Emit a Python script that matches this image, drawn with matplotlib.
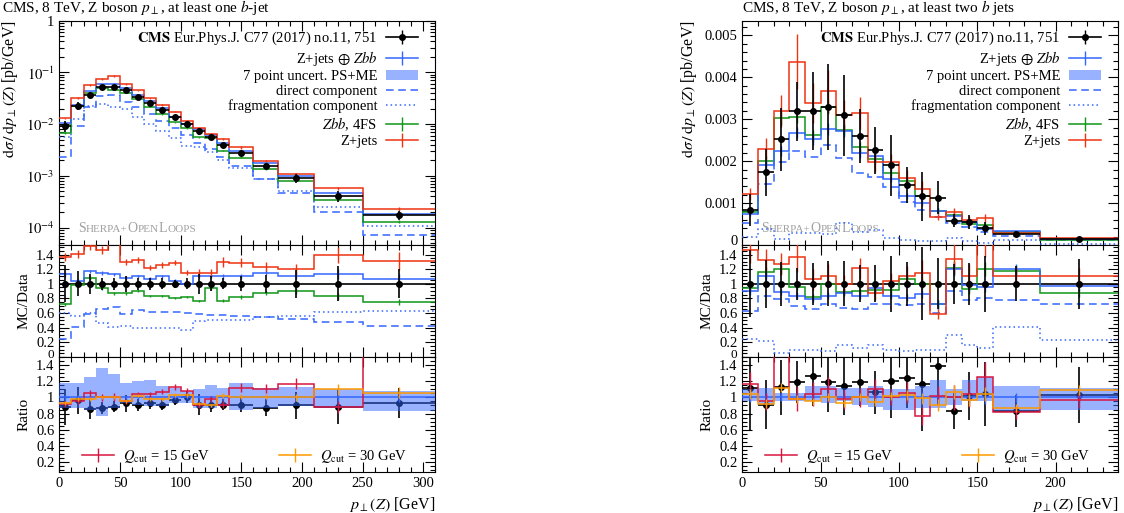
import numpy as np
import matplotlib.pyplot as plt
from matplotlib.ticker import (MultipleLocator, AutoMinorLocator, LogLocator,
                               FuncFormatter, NullFormatter)
from matplotlib.patches import Patch
from matplotlib.lines import Line2D
from matplotlib.legend import Legend
from matplotlib.offsetbox import TextArea, HPacker, AnchoredOffsetbox

plt.rcParams['font.family'] = ['Liberation Serif', 'DejaVu Serif']
plt.rcParams['mathtext.fontset'] = 'stix'
plt.rcParams['font.size'] = 10
plt.rcParams['xtick.labelsize'] = 10.5
plt.rcParams['ytick.labelsize'] = 10.5

RED = '#EE3311'
BLUE = '#3366FF'
GREEN = '#109618'
CRIMSON = '#D8163E'
ORANGE = '#FF9900'
GREY = '#A0A0A0'

#%% at least one b-jet
edges_1b = [0, 10, 20, 30, 40, 50, 60, 70, 80, 90, 100, 110, 120, 130, 140, 160, 180, 210, 250, 310]
data_1b = [0.0094, 0.0226, 0.037, 0.052, 0.053, 0.046, 0.034, 0.026, 0.0187, 0.0135,
           0.0101, 0.0073, 0.0057, 0.0040, 0.00275, 0.00156, 0.00090, 0.00041, 0.000173]
derr_1b = [0.25, 0.17, 0.14, 0.08, 0.08, 0.11, 0.08, 0.085, 0.075, 0.055,
           0.075, 0.14, 0.10, 0.075, 0.10, 0.12, 0.19, 0.24, 0.20]
# MC / Data
red_1b = [1.37, 1.41, 1.52, 1.46, 1.62, 1.30, 1.33, 1.22, 1.26, 1.29,
          1.15, 1.15, 1.15, 1.30, 1.29, 1.23, 1.20, 1.39, 1.31]
blue_1b = [1.13, 1.04, 1.17, 1.15, 1.13, 1.08, 1.10, 1.07, 1.10, 1.04,
           1.00, 1.10, 1.10, 1.10, 1.10, 1.15, 1.11, 1.14, 1.07]
green_1b = [0.72, 0.98, 1.08, 0.94, 0.87, 0.87, 0.90, 0.83, 0.83, 0.81,
            0.82, 0.77, 0.94, 0.77, 0.82, 0.87, 0.90, 0.83, 0.75]
direct_1b = [0.25, 0.41, 0.59, 0.66, 0.68, 0.59, 0.64, 0.61, 0.62, 0.61,
             0.60, 0.59, 0.58, 0.57, 0.56, 0.55, 0.52, 0.48, 0.42]
frag_1b = [0.60, 0.56, 0.60, 0.47, 0.41, 0.42, 0.40, 0.39, 0.39, 0.40,
           0.37, 0.49, 0.50, 0.50, 0.51, 0.55, 0.56, 0.62, 0.63]
# ratio to Z+jets (+) Zbb
band_hi_1b = [1.18, 1.18, 1.25, 1.37, 1.29, 1.18, 1.20, 1.22, 1.14, 1.12,
              1.08, 1.10, 1.15, 1.12, 1.18, 1.12, 1.13, 1.10, 1.08]
band_lo_1b = [0.87, 0.87, 0.85, 0.77, 0.87, 0.93, 0.91, 0.89, 0.89, 0.93,
              0.93, 0.87, 0.87, 0.89, 0.85, 0.87, 0.89, 0.87, 0.83]
q15_1b = [0.92, 0.95, 1.05, 1.00, 1.00, 0.95, 1.04, 1.04, 1.07, 1.13,
          1.08, 0.91, 0.98, 0.91, 1.12, 1.11, 1.17, 0.88, 1.75]
q30_1b = [0.93, 0.98, 0.98, 1.00, 1.00, 0.95, 1.02, 0.98, 0.98, 1.03,
          1.03, 0.92, 0.90, 1.02, 1.01, 1.01, 1.00, 1.10, 1.06]
err_red_1b = [0.04, 0.04, 0.04, 0.04, 0.05, 0.03, 0.03, 0.03, 0.03, 0.03,
              0.03, 0.04, 0.04, 0.05, 0.05, 0.05, 0.06, 0.08, 0.09]
err_mc_1b = [0.03, 0.03, 0.02, 0.02, 0.02, 0.02, 0.02, 0.02, 0.02, 0.02,
             0.02, 0.02, 0.02, 0.03, 0.03, 0.03, 0.04, 0.06, 0.06]

#%% at least two b jets
edges_2b = [0, 10, 20, 30, 40, 50, 60, 70, 80, 90, 100, 110, 120, 130, 140, 150, 160, 190, 240]
data_2b = [0.00083, 0.00173, 0.00252, 0.00319, 0.00319, 0.00330, 0.00309, 0.00260, 0.00226,
           0.00190, 0.00144, 0.00116, 0.00113, 0.00058, 0.00055, 0.00040, 0.00027, 0.00015]
derr_2b = [0.46, 0.33, 0.30, 0.22, 0.29, 0.31, 0.31, 0.25, 0.25,
           0.38, 0.30, 0.50, 0.35, 0.27, 0.29, 0.38, 0.24, 0.34]
red_2b = [1.46, 1.33, 1.27, 1.37, 1.06, 1.11, 1.00, 1.21, 0.88,
          1.04, 1.11, 1.15, 0.59, 1.34, 1.10, 1.60, 1.10, 1.10]
blue_2b = [0.90, 1.10, 0.89, 0.84, 0.79, 0.84, 0.88, 0.84, 0.94,
           0.83, 0.81, 0.86, 0.72, 1.20, 0.98, 0.96, 1.20, 0.97]
green_2b = [0.94, 1.16, 1.20, 0.96, 0.82, 1.00, 0.89, 0.90, 0.91,
            0.91, 1.06, 1.00, 0.72, 1.22, 0.93, 1.20, 1.18, 0.87]
direct_2b = [0.63, 0.84, 0.79, 0.70, 0.66, 0.72, 0.67, 0.66, 0.72,
             0.73, 0.71, 0.72, 0.60, 0.90, 0.78, 0.80, 0.78, 0.73]
frag_2b = [0.24, 0.22, 0.055, 0.09, 0.09, 0.08, 0.17, 0.12, 0.16,
           0.09, 0.08, 0.09, 0.09, 0.30, 0.17, 0.12, 0.41, 0.23]
band_hi_2b = [1.10, 1.12, 1.06, 1.06, 1.14, 1.14, 1.12, 1.12, 1.14,
              1.10, 1.10, 1.14, 1.22, 1.10, 1.22, 1.25, 1.14, 1.12]
band_lo_2b = [0.95, 0.91, 0.95, 0.95, 0.95, 0.93, 0.95, 0.90, 0.88,
              0.85, 0.84, 0.87, 0.87, 0.91, 0.95, 0.95, 0.83, 0.85]
q15_2b = [1.17, 0.95, 1.80, 0.98, 1.04, 1.10, 0.98, 1.00, 1.10,
          1.00, 1.06, 0.77, 1.02, 1.00, 1.04, 1.25, 0.82, 0.97]
q30_2b = [1.04, 0.92, 1.12, 0.98, 0.95, 1.01, 0.93, 1.01, 0.94,
          1.02, 1.03, 0.99, 0.91, 1.07, 0.97, 1.04, 0.87, 1.09]
err_red_2b = [0.12, 0.11, 0.12, 0.15, 0.14, 0.14, 0.12, 0.12, 0.12,
              0.10, 0.12, 0.15, 0.12, 0.15, 0.15, 0.15, 0.10, 0.10]
err_mc_2b = [0.06, 0.06, 0.05, 0.05, 0.05, 0.05, 0.05, 0.05, 0.05,
             0.05, 0.06, 0.07, 0.08, 0.08, 0.08, 0.08, 0.06, 0.06]


def style(ax, xmax, bottom_labels=False):
    ax.set_xlim(0, xmax)
    ax.xaxis.set_major_locator(MultipleLocator(50))
    ax.xaxis.set_minor_locator(MultipleLocator(10))
    ax.tick_params(which='both', direction='in', top=True, right=True, width=0.8)
    ax.tick_params(which='major', length=7)
    ax.tick_params(which='minor', length=3.5)
    if bottom_labels:
        ax.xaxis.set_major_formatter(FuncFormatter(lambda v, p: '%g' % v))
    else:
        ax.xaxis.set_major_formatter(NullFormatter())
    for s in ax.spines.values():
        s.set_linewidth(0.8)


def zero_label(ax, lift, size):
    # the "0" at the foot of a panel, lifted a touch so it clears the panel below
    ax.annotate('0', xy=(0, 0), xycoords=('axes fraction', 'data'), xytext=(-3.5, lift),
                textcoords='offset points', ha='right', va='center', fontsize=size)


def draw(axm, ax1, ax2, edges, data, derr, r_red, r_blue, r_green, r_dir, r_frag,
         b_hi, b_lo, q15, q30, e_red, e_mc):
    e = np.asarray(edges, float)
    x = 0.5 * (e[1:] + e[:-1])
    hw = 0.5 * (e[1:] - e[:-1])
    data, derr = np.array(data), np.array(derr)
    r_red, r_blue, r_green = np.array(r_red), np.array(r_blue), np.array(r_green)
    b_hi, b_lo = np.array(b_hi), np.array(b_lo)
    e_red, e_mc = np.array(e_red), np.array(e_mc)
    ones = np.ones_like(x)

    # main panel
    axm.stairs(data * np.array(r_dir), e, baseline=None, color=BLUE, ls=(0, (5, 3)), lw=1.1, zorder=4)
    axm.stairs(data * np.array(r_frag), e, baseline=None, color=BLUE, ls=(0, (1, 2)), lw=1.1, zorder=4)
    for r, c, er in ((r_green, GREEN, e_mc), (r_blue, BLUE, e_mc), (r_red, RED, e_red)):
        v = data * r
        axm.stairs(v, e, baseline=None, color=c, lw=1.1, zorder=4)
        axm.errorbar(x, v, yerr=v * er, fmt='none', ecolor=c, elinewidth=1, zorder=4)
    axm.errorbar(x, data, xerr=hw, yerr=data * derr, fmt='o', color='k', ms=4,
                 elinewidth=1.2, zorder=6)

    # MC / Data
    ax1.axhline(1, color='k', lw=1.2, zorder=4)
    ax1.stairs(r_dir, e, baseline=None, color=BLUE, ls=(0, (5, 3)), lw=1.1, zorder=4)
    ax1.stairs(r_frag, e, baseline=None, color=BLUE, ls=(0, (1, 2)), lw=1.1, zorder=4)
    for r, c, er in ((r_green, GREEN, e_mc), (r_blue, BLUE, e_mc), (r_red, RED, e_red)):
        ax1.stairs(r, e, baseline=None, color=c, lw=1.1, zorder=4)
        ax1.errorbar(x, r, yerr=r * er, fmt='none', ecolor=c, elinewidth=1, zorder=4)
    ax1.errorbar(x, ones, yerr=derr, fmt='o', color='k', ms=4, elinewidth=1.2, zorder=6)

    # ratio to Z+jets (+) Zbb
    ax2.errorbar(x, 1 / r_blue, xerr=hw, yerr=derr / r_blue, fmt='o', color='k', ms=4,
                 elinewidth=1.2, zorder=2)
    ax2.stairs(b_hi, e, baseline=b_lo, fill=True, color=BLUE, alpha=0.5, lw=0, zorder=3)
    ax2.axhline(1, color=BLUE, lw=1.1, zorder=4)
    ax2.errorbar(x, ones, yerr=e_mc, fmt='none', ecolor=BLUE, elinewidth=1, zorder=4)
    for q, c, er in ((q15, CRIMSON, e_red), (q30, ORANGE, e_mc)):
        q = np.array(q)
        ax2.stairs(q, e, baseline=None, color=c, lw=1.1, zorder=5)
        ax2.errorbar(x, q, yerr=q * er, fmt='none', ecolor=c, elinewidth=1, zorder=5)

    # legends
    vtick = dict(marker='|', ms=10, mew=1, ls='none')
    handles = [
        (Line2D([], [], color='k', lw=1.2), Line2D([], [], color='k', **vtick),
         Line2D([], [], color='k', marker='o', ms=4, ls='none')),
        (Line2D([], [], color=BLUE, lw=1.1), Line2D([], [], color=BLUE, **vtick)),
        Patch(facecolor=BLUE, alpha=0.5, lw=0),
        Line2D([], [], color=BLUE, ls=(0, (5, 3)), lw=1.1),
        Line2D([], [], color=BLUE, ls=(0, (1, 2)), lw=1.1),
        (Line2D([], [], color=GREEN, lw=1.1), Line2D([], [], color=GREEN, **vtick)),
        (Line2D([], [], color=RED, lw=1.1), Line2D([], [], color=RED, **vtick)),
    ]
    labels = [r'$\mathbf{CMS}$ Eur.Phys.J. C77 (2017) no.11, 751',
              r'Z+jets $\oplus$ $Zbb$', '7 point uncert. PS+ME', 'direct component',
              'fragmentation component', r'$Zbb$, 4FS', 'Z+jets']
    axm.legend(handles, labels, loc='upper right', bbox_to_anchor=(0.97, 0.985),
               borderaxespad=0, markerfirst=False, frameon=False,
               handlelength=2.2, handletextpad=0.6, labelspacing=0.12, fontsize=10.5)

    for xq, q, c in ((0.061, 15, CRIMSON), (0.585, 30, ORANGE)):
        leg = Legend(ax2, [(Line2D([], [], color=c, lw=1.1), Line2D([], [], color=c, **vtick))],
                     [r'$Q_{\mathrm{cut}}$ = %d GeV' % q], loc='lower left',
                     bbox_to_anchor=(xq, 0.06), borderaxespad=0, borderpad=0,
                     frameon=False, handlelength=2.2, handletextpad=0.6, fontsize=10.5)
        ax2.add_artist(leg)

    # generator label
    parts = [('S', 10), ('HERPA+', 8), ('O', 10), ('PEN', 8), ('L', 10), ('OOPS', 8)]
    box = HPacker(children=[TextArea(t, textprops=dict(color=GREY, size=s)) for t, s in parts],
                  align='baseline', pad=0, sep=0)
    ab = AnchoredOffsetbox(loc='lower left', child=box, pad=0, borderpad=0, frameon=False,
                           bbox_to_anchor=(0.05, 0.045), bbox_transform=axm.transAxes)
    ab.set_zorder(1)
    axm.add_artist(ab)


fig = plt.figure(figsize=(11.24, 5.13), dpi=100)
H = 513.0
panels = []
for x0 in (0.0528, 0.6604):
    w = 0.3345
    axm = fig.add_axes([x0, 1 - 245 / H, w, (245 - 20.7) / H])
    ax1 = fig.add_axes([x0, 1 - 357 / H, w, 112 / H])
    ax2 = fig.add_axes([x0, 1 - 471.7 / H, w, 114.7 / H])
    panels.append((axm, ax1, ax2))

ratio_fmt = FuncFormatter(lambda v, p: '' if abs(v) < 1e-9 else '%g' % round(v, 2))

for (axm, ax1, ax2), xmax in zip(panels, (310, 240)):
    style(axm, xmax)
    style(ax1, xmax)
    style(ax2, xmax, bottom_labels=True)
    ax1.set_ylim(0, 1.53)
    ax1.set_yticks([0, 0.2, 0.4, 0.6, 0.8, 1.0, 1.2, 1.4])
    ax2.set_ylim(0.08, 1.5)
    ax2.set_yticks([0.2, 0.4, 0.6, 0.8, 1.0, 1.2, 1.4])
    for a in (ax1, ax2):
        a.yaxis.set_minor_locator(AutoMinorLocator(4))
        a.yaxis.set_major_formatter(ratio_fmt)
    zero_label(ax1, 1.1, 9.5)
    ax1.set_ylabel('MC/Data', fontsize=11)
    ax2.set_ylabel('Ratio', fontsize=11)
    ax2.set_xlabel(r'$p_\perp(Z)$ [GeV]', loc='right', fontsize=11.5)
    axm.set_ylabel(r'$\mathrm{d}\sigma\,/\,\mathrm{d}p_\perp(Z)$ [pb/GeV]', loc='top', fontsize=11.5)

axm, ax1, ax2 = panels[0]
draw(axm, ax1, ax2, edges_1b, data_1b, derr_1b, red_1b, blue_1b, green_1b, direct_1b, frag_1b,
     band_hi_1b, band_lo_1b, q15_1b, q30_1b, err_red_1b, err_mc_1b)
axm.set_yscale('log')
axm.set_ylim(4.6e-5, 1)
axm.yaxis.set_major_locator(LogLocator(base=10, numticks=10))
axm.yaxis.set_minor_locator(LogLocator(base=10, subs=np.arange(2, 10), numticks=20))
axm.yaxis.set_minor_formatter(NullFormatter())
axm.yaxis.set_major_formatter(FuncFormatter(
    lambda v, p: '1' if abs(v - 1) < 1e-9 else r'$10^{%d}$' % round(np.log10(v))))
style(axm, 310)

axm, ax1, ax2 = panels[1]
draw(axm, ax1, ax2, edges_2b, data_2b, derr_2b, red_2b, blue_2b, green_2b, direct_2b, frag_2b,
     band_hi_2b, band_lo_2b, q15_2b, q30_2b, err_red_2b, err_mc_2b)
axm.set_ylim(0, 0.00535)
axm.yaxis.set_major_locator(MultipleLocator(0.001))
axm.yaxis.set_minor_locator(MultipleLocator(0.0002))
axm.yaxis.set_major_formatter(FuncFormatter(lambda v, p: '' if abs(v) < 1e-12 else '%.3f' % v))
zero_label(axm, 2.5, 10.5)

fig.text(0.002, 1 - 12 / H, r'CMS, 8 TeV, Z boson $p_\perp$, at least one $b$-jet',
         ha='left', va='baseline', fontsize=11)
fig.text(0.6604, 1 - 12 / H, r'CMS, 8 TeV, Z boson $p_\perp$, at least two $b$ jets',
         ha='left', va='baseline', fontsize=11)

fig.savefig('out.png', dpi=100)
